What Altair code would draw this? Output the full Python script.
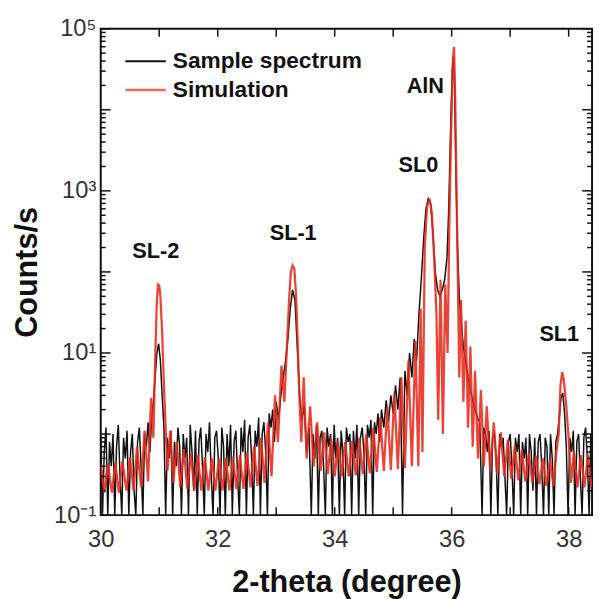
import altair as alt
import pandas as pd

# ---------------- data ----------------
sample_x = [
    30.00, 30.03, 30.06, 30.09, 30.12, 30.15, 30.18, 30.21, 30.24, 30.27,
    30.30, 30.33, 30.36, 30.39, 30.42, 30.45, 30.48, 30.51, 30.54, 30.57,
    30.60, 30.63, 30.66, 30.69, 30.72, 30.75, 30.78, 30.81, 30.84, 30.87,
    30.90, 30.93, 30.96, 30.99, 31.02, 31.05, 31.08,
    31.11, 31.14, 31.17, 31.20, 31.23, 31.26, 31.29, 31.32, 31.35, 31.38,
    31.41, 31.44, 31.47, 31.50, 31.53, 31.56, 31.59, 31.62, 31.65, 31.68,
    31.71, 31.74, 31.77, 31.80, 31.83, 31.86, 31.89, 31.92, 31.95, 31.98,
    32.01, 32.04, 32.07, 32.10, 32.13, 32.16, 32.19, 32.22, 32.25, 32.28,
    32.31, 32.34, 32.37, 32.40, 32.43, 32.46, 32.49, 32.52, 32.55, 32.58,
    32.61, 32.64, 32.67, 32.70, 32.73, 32.76, 32.79, 32.82, 32.85, 32.88,
    32.91, 32.94, 32.97,
    33.00, 33.04, 33.08, 33.12, 33.16, 33.20, 33.24, 33.28, 33.32, 33.36,
    33.40, 33.44, 33.48, 33.52, 33.56,
    33.60, 33.63, 33.66, 33.69, 33.72, 33.75, 33.78, 33.81, 33.84, 33.87,
    33.90, 33.93, 33.96, 33.99, 34.02, 34.05, 34.08, 34.11, 34.14, 34.17,
    34.20, 34.23, 34.26, 34.29, 34.32, 34.35, 34.38, 34.41, 34.44, 34.47,
    34.50, 34.53, 34.56, 34.59, 34.62, 34.65, 34.68, 34.71, 34.74, 34.77,
    34.80,
    34.84, 34.88, 34.92, 34.96, 35.00, 35.04, 35.08, 35.12, 35.16, 35.20,
    35.24, 35.28, 35.32, 35.36, 35.40, 35.44,
    35.48, 35.52, 35.56, 35.60, 35.64, 35.68, 35.72, 35.76, 35.80, 35.84,
    35.88, 35.92, 35.95, 35.98, 36.01, 36.03, 36.05, 36.07, 36.10, 36.13,
    36.16, 36.20, 36.24, 36.28, 36.32, 36.36, 36.40, 36.44, 36.48,
    36.52, 36.55, 36.58, 36.61, 36.64, 36.67, 36.70, 36.73, 36.76, 36.79,
    36.82, 36.85, 36.88, 36.91, 36.94, 36.97, 37.00, 37.03, 37.06, 37.09,
    37.12, 37.15, 37.18, 37.21, 37.24, 37.27, 37.30, 37.33, 37.36, 37.39,
    37.42, 37.45, 37.48, 37.51, 37.54, 37.57, 37.60, 37.63, 37.66, 37.69,
    37.72, 37.75, 37.78,
    37.81, 37.84, 37.87, 37.90, 37.93, 37.96, 37.99,
    38.02, 38.05, 38.08, 38.11, 38.14, 38.17, 38.20, 38.23, 38.26, 38.29,
    38.32, 38.35, 38.38, 38.40,
]
sample_y = [
    0.9, 0.1, 0.6, 1.2, 0.1, 0.8, 0.4, 1.0, 0.1, 0.7,
    1.3, 0.3, 0.1, 0.9, 0.5, 1.1, 0.1, 0.6, 1.0, 0.2,
    0.1, 0.8, 1.2, 0.4, 0.1, 1.0, 0.7, 1.4, 0.6, 1.5,
    2.5, 5, 10, 13, 8, 3, 1.2,
    0.1, 0.9, 0.5, 1.1, 0.1, 0.8, 0.4, 1.2, 0.7, 0.1,
    1.0, 0.5, 0.9, 0.1, 1.3, 0.6, 0.2, 1.1, 0.1, 0.8,
    1.2, 0.4, 0.1, 1.0, 0.6, 1.4, 0.3, 0.1, 0.9, 1.1,
    0.5, 0.1, 1.2, 0.7, 0.1, 1.0, 0.4, 1.3, 0.1, 0.8,
    1.1, 0.3, 0.1, 1.2, 0.6, 1.5, 0.1, 0.9, 1.3, 0.5,
    0.1, 1.1, 0.7, 1.6, 0.1, 1.0, 1.4, 0.6, 0.1, 1.8,
    1.2, 2.0, 0.8,
    2.5, 1.5, 3, 5, 8, 15, 35, 60, 45, 12,
    3, 1.5, 2.2, 0.6, 1.2,
    0.1, 1.0, 0.5, 1.3, 0.1, 0.9, 1.1, 0.4, 0.1, 1.2,
    0.7, 1.0, 0.1, 1.3, 0.5, 0.9, 0.1, 1.1, 0.6, 0.1,
    1.2, 0.8, 1.0, 0.1, 1.1, 0.5, 1.3, 0.1, 0.9, 1.2,
    0.6, 0.1, 1.3, 0.9, 1.5, 0.1, 1.4, 1.0, 1.8, 0.8,
    2.0,
    1.2, 2.6, 1.4, 3.0, 1.8, 4, 2, 5, 0.1, 6,
    3, 10, 5, 15, 8, 30,
    80, 250, 600, 800, 700, 300, 100, 60, 50, 60,
    80, 150, 600, 5000, 30000, 45000, 20000, 2000, 200, 50,
    25, 12, 8, 5, 3.5, 2.6, 2.0, 1.6, 1.4,
    0.1, 1.2, 1.0, 0.6, 1.1, 0.1, 0.9, 1.0, 0.5, 0.1,
    1.0, 0.7, 0.9, 0.3, 0.1, 0.8, 1.0, 0.4, 0.1, 0.9,
    0.6, 1.0, 0.1, 0.8, 0.5, 0.9, 0.1, 1.0, 0.6, 0.2,
    0.9, 0.1, 0.8, 1.0, 0.4, 0.1, 0.9, 0.7, 0.1, 1.0,
    0.5, 0.1, 0.8,
    1.0, 1.6, 2.8, 3.2, 1.8, 0.7, 0.1,
    0.9, 0.6, 1.1, 0.1, 0.8, 1.0, 0.3, 0.1, 0.9, 1.2,
    0.5, 0.1, 1.0, 0.7,
]

sim_x = [
    30.00, 30.06, 30.12, 30.19, 30.25, 30.31, 30.37, 30.44, 30.50, 30.56,
    30.62, 30.69, 30.75, 30.81, 30.86, 30.90, 30.93, 30.96, 30.98, 31.00,
    31.02, 31.05, 31.08, 31.11, 31.14, 31.19, 31.24, 31.30, 31.36, 31.42,
    31.48, 31.54, 31.60, 31.66, 31.72, 31.78, 31.84, 31.90, 31.96, 32.02,
    32.08, 32.14, 32.20, 32.26, 32.32, 32.38, 32.44, 32.50, 32.56, 32.62,
    32.68, 32.74, 32.80, 32.86, 32.92, 32.98, 33.03, 33.09, 33.14, 33.19,
    33.22, 33.25, 33.28, 33.31, 33.34, 33.37, 33.40, 33.43, 33.47, 33.52,
    33.58, 33.64, 33.70, 33.76, 33.82, 33.88, 33.94, 34.00, 34.06, 34.12,
    34.18, 34.24, 34.30, 34.36, 34.42, 34.48, 34.54, 34.60, 34.66, 34.72,
    34.78, 34.84, 34.90, 34.96, 35.02, 35.08, 35.14, 35.20, 35.26, 35.32,
    35.38, 35.43, 35.47, 35.50, 35.54, 35.58, 35.62, 35.66, 35.70, 35.74,
    35.77, 35.81, 35.85, 35.89, 35.93, 35.96, 35.99, 36.02, 36.04, 36.06,
    36.08, 36.10, 36.13, 36.16, 36.20, 36.24, 36.28, 36.32, 36.36, 36.40,
    36.45, 36.50, 36.55, 36.60, 36.66, 36.72, 36.78, 36.84, 36.90, 36.96,
    37.02, 37.08, 37.14, 37.20, 37.26, 37.32, 37.38, 37.44, 37.50, 37.56,
    37.62, 37.68, 37.74, 37.79, 37.83, 37.86, 37.89, 37.92, 37.96, 38.00,
    38.04, 38.09, 38.15, 38.21, 38.27, 38.33, 38.39,
]
sim_y = [
    0.42, 0.19, 0.43, 0.19, 0.44, 0.19, 0.46, 0.2, 0.52, 0.2,
    0.7, 0.22, 1.1, 0.26, 2.8, 0.9, 8, 45, 70, 68,
    50, 18, 4, 1.2, 0.35, 1.1, 0.25, 0.8, 0.22, 0.65,
    0.21, 0.58, 0.2, 0.55, 0.2, 0.52, 0.2, 0.5, 0.2, 0.5,
    0.2, 0.5, 0.2, 0.52, 0.21, 0.55, 0.21, 0.6, 0.22, 0.7,
    0.23, 0.9, 0.25, 1.4, 0.3, 3, 0.8, 7, 2.5, 15,
    45, 100, 120, 110, 50, 12, 2.5, 0.8, 5, 0.5,
    2.2, 0.4, 1.4, 0.35, 1.05, 0.32, 0.88, 0.3, 0.8, 0.3,
    0.8, 0.3, 0.82, 0.31, 0.9, 0.32, 1.0, 0.33, 1.2, 0.34,
    1.6, 0.35, 2.2, 0.36, 3.2, 0.37, 5, 0.38, 8, 0.4,
    14, 0.4, 35, 0.6, 200, 650, 800, 550, 150, 30,
    1.5, 80, 1.0, 70, 10, 400, 5000, 40000, 60000, 15000,
    1500, 150, 5, 45, 2.5, 25, 1.2, 12, 0.7, 6,
    0.5, 3.5, 0.4, 2.2, 0.35, 1.4, 0.32, 1.05, 0.3, 0.85,
    0.28, 0.72, 0.27, 0.64, 0.26, 0.58, 0.25, 0.54, 0.24, 0.5,
    0.23, 0.48, 0.23, 0.6, 1.0, 4, 5.8, 4.5, 2.2, 0.9,
    0.25, 0.6, 0.22, 0.55, 0.22, 0.55, 0.22,
]

assert len(sample_x) == len(sample_y), (len(sample_x), len(sample_y))
assert len(sim_x) == len(sim_y), (len(sim_x), len(sim_y))

peak_labels = ["SL-2", "SL-1", "SL0", "AlN", "SL1"]
peak_label_x = [30.94, 33.29, 35.43, 35.55, 37.84]
peak_label_y = [183, 302, 2090, 19600, 16.9]

x_label_values = [30, 32, 34, 36, 38]
x_tick_values = [31, 32, 33, 34, 35, 36, 37, 38]
y_label_values = [0.1, 10, 1000, 100000]
y_major_ticks = [0.1, 1, 10, 100, 1000, 10000, 100000]
y_minor_ticks = [
    0.2, 0.3, 0.4, 0.5, 0.6, 0.7, 0.8, 0.9,
    2, 3, 4, 5, 6, 7, 8, 9,
    20, 30, 40, 50, 60, 70, 80, 90,
    200, 300, 400, 500, 600, 700, 800, 900,
    2000, 3000, 4000, 5000, 6000, 7000, 8000, 9000,
    20000, 30000, 40000, 50000, 60000, 70000, 80000, 90000,
]

legend_names = ["Sample spectrum", "Simulation"]

# ---------------- chart ----------------
W, H = 498, 493
FONT = "Liberation Sans"
BLACK = "#111111"
RED = "#e62a1c"

xscale = alt.Scale(domain=[30, 38.4], nice=False, zero=False)
yscale = alt.Scale(type="log", domain=[0.1, 100000], nice=False)

sample_df = pd.DataFrame({"x": sample_x, "y": sample_y})
sim_df = pd.DataFrame({"x": sim_x, "y": sim_y})
ann_df = pd.DataFrame({"label": peak_labels, "x": peak_label_x, "y": peak_label_y})

x_axis = alt.Axis(
    values=x_label_values, title="2-theta (degree)", ticks=False, domain=False,
    grid=False, labelFlush=False, labelFont=FONT, labelFontSize=24,
    labelColor="#333333", labelPadding=13, titleFont=FONT, titleFontSize=31,
    titleFontWeight="bold", titleColor=BLACK, titlePadding=16,
)
y_axis = alt.Axis(
    values=y_label_values, title="Counts/s", ticks=False, domain=False,
    grid=False, labelFlush=False, labelOverlap=False, labelFont=FONT,
    labelFontSize=24, labelColor="#333333", labelPadding=5,
    labelExpr="datum.value < 1 ? '10⁻¹' : datum.value < 100 ? '10¹' : datum.value < 10000 ? '10³' : '10⁵'",
    titleFont=FONT, titleFontSize=31, titleFontWeight="bold",
    titleColor=BLACK, titlePadding=10,
)


def X(field):
    return alt.X(field, scale=xscale, axis=x_axis)


def Y(field):
    return alt.Y(field, scale=yscale, axis=y_axis)


sample_line = alt.Chart(sample_df).mark_line(
    color=BLACK, strokeWidth=1.5, clip=True
).encode(x=X("x:Q"), y=Y("y:Q"), order="x:Q")

sim_line = alt.Chart(sim_df).mark_line(
    color=RED, strokeWidth=2.3, opacity=0.88, clip=True
).encode(x=X("x:Q"), y=Y("y:Q"), order="x:Q")

ann = alt.Chart(ann_df).mark_text(
    font=FONT, fontSize=22, fontWeight="bold", color=BLACK,
    align="center", baseline="middle",
).encode(x=X("x:Q"), y=Y("y:Q"), text="label:N")

# inward ticks (left/right: y ticks, top/bottom: x ticks)
ymaj_df = pd.DataFrame({"v": y_major_ticks})
ymin_df = pd.DataFrame({"v": y_minor_ticks})
xt_df = pd.DataFrame({"v": x_tick_values})


def yticks(df, length, right):
    enc = dict(y=Y("v:Q"))
    if right:
        enc.update(x=alt.value(W - length), x2=alt.value(W))
    else:
        enc.update(x=alt.value(0), x2=alt.value(length))
    return alt.Chart(df).mark_rule(color=BLACK, strokeWidth=1.5).encode(**enc)


def xticks(df, length, top):
    enc = dict(x=X("v:Q"))
    if top:
        enc.update(y=alt.value(0), y2=alt.value(length))
    else:
        enc.update(y=alt.value(H - length), y2=alt.value(H))
    return alt.Chart(df).mark_rule(color=BLACK, strokeWidth=1.5).encode(**enc)


tick_layers = [
    yticks(ymaj_df, 10, False), yticks(ymin_df, 5, False),
    yticks(ymaj_df, 10, True), yticks(ymin_df, 5, True),
    xticks(xt_df, 8, True), xticks(xt_df, 8, False),
]

one = pd.DataFrame({"a": [0]})
leg_black = alt.Chart(one).mark_rule(color=BLACK, strokeWidth=2).encode(
    x=alt.value(25), x2=alt.value(66), y=alt.value(33))
leg_red = alt.Chart(one).mark_rule(color=RED, strokeWidth=2.5, opacity=0.7).encode(
    x=alt.value(25), x2=alt.value(66), y=alt.value(62))
leg_t1 = alt.Chart(one).mark_text(
    font=FONT, fontSize=23, fontWeight="bold", color=BLACK, align="left",
    baseline="middle").encode(x=alt.value(73), y=alt.value(33),
                              text=alt.value(legend_names[0]))
leg_t2 = alt.Chart(one).mark_text(
    font=FONT, fontSize=23, fontWeight="bold", color=BLACK, align="left",
    baseline="middle").encode(x=alt.value(73), y=alt.value(62),
                              text=alt.value(legend_names[1]))

chart = alt.layer(
    sample_line, sim_line, *tick_layers, ann, leg_black, leg_red, leg_t1, leg_t2
).properties(
    width=W, height=H,
    autosize=alt.AutoSizeParams(type="none"),
    padding={"left": 94, "top": 17, "right": 3, "bottom": 81},
).configure_view(
    stroke=BLACK, strokeWidth=2
)

chart.save("out.html", embed_options={"renderer": "svg", "actions": False})
